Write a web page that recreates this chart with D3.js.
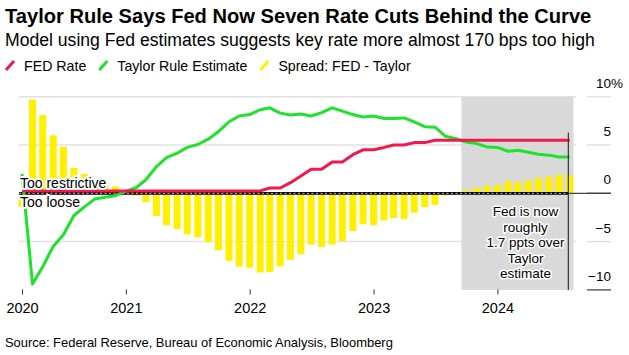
<!DOCTYPE html>
<html><head><meta charset="utf-8">
<script src="https://cdn.jsdelivr.net/npm/d3@7"></script>
<style>
html,body{margin:0;padding:0;background:#fff;}
svg{display:block;}
text{font-family:"Liberation Sans", Arial, sans-serif;fill:#000;}
</style></head><body>
<svg id="chart" width="629" height="355"></svg>
<script>
// ---------------- DATA ----------------
const months = [
 "2020-03","2020-04","2020-05","2020-06","2020-07","2020-08","2020-09","2020-10","2020-11","2020-12",
 "2021-01","2021-02","2021-03","2021-04","2021-05","2021-06","2021-07","2021-08","2021-09","2021-10","2021-11","2021-12",
 "2022-01","2022-02","2022-03","2022-04","2022-05","2022-06","2022-07","2022-08","2022-09","2022-10","2022-11","2022-12",
 "2023-01","2023-02","2023-03","2023-04","2023-05","2023-06","2023-07","2023-08","2023-09","2023-10","2023-11","2023-12",
 "2024-01","2024-02","2024-03","2024-04","2024-05","2024-06","2024-07","2024-08"
];
const fedRate = [
 0.25,0.25,0.25,0.25,0.25,0.25,0.25,0.25,0.25,0.25,
 0.25,0.25,0.25,0.25,0.25,0.25,0.25,0.25,0.25,0.25,0.25,0.25,
 0.25,0.25,0.55,0.55,1.1,1.8,2.5,2.5,3.25,3.25,4.0,4.5,
 4.5,4.75,5.0,5.0,5.25,5.25,5.5,5.5,5.5,5.5,5.5,5.5,
 5.5,5.5,5.5,5.5,5.5,5.5,5.5,5.5
];
const taylorEstimate = [
 2.0,-9.4,-7.6,-5.5,-4.3,-2.3,-1.4,-0.6,-0.4,-0.25,
 0.2,0.6,1.4,2.75,3.7,4.15,4.75,5.05,5.6,6.4,7.4,8.0,
 8.15,8.65,8.85,8.3,8.1,8.2,8.0,8.35,8.85,8.5,8.15,7.9,
 8.0,7.75,7.75,7.8,7.4,6.9,6.85,5.9,5.65,5.3,5.15,4.8,
 4.75,4.35,4.45,4.25,4.05,3.95,3.75,3.75
];
const spread = [
 -1.4,9.7,8.1,6.0,4.8,2.65,2.0,1.0,0.8,0.7,
 0.1,-0.25,-0.9,-2.35,-3.3,-3.7,-4.25,-4.55,-5.05,-5.9,-7.0,-7.6,
 -7.7,-8.2,-8.15,-7.55,-6.9,-6.3,-5.3,-5.55,-5.3,-4.95,-3.9,-3.2,
 -3.3,-2.8,-2.55,-2.65,-2.0,-1.45,-1.2,-0.2,-0.1,0.3,0.55,0.8,
 0.85,1.25,1.15,1.3,1.6,1.7,1.9,1.85
];
const yTickValues = [10, 5, 0, -5, -10];
const xTickMonths = ["2020-03","2021-01","2022-01","2023-01","2024-01"];
const xTickLabels = ["2020","2021","2022","2023","2024"];
const highlightRange = ["2023-09-17","2024-08-12"];
const annotationDate = "2024-07-28";
const annotationTop = 6.3;
const annotationLines = ["Fed is now","roughly","1.7 ppts over","Taylor","estimate"];
const seriesNames = ["FED Rate","Taylor Rule Estimate","Spread: FED - Taylor"];
const titleText = "Taylor Rule Says Fed Now Seven Rate Cuts Behind the Curve";
const subtitleText = "Model using Fed estimates suggests key rate more almost 170 bps too high";
const sourceText = "Source: Federal Reserve, Bureau of Economic Analysis, Bloomberg";
const zoneLabels = ["Too restrictive","Too loose"];

// ---------------- STYLE ----------------
const RED = "#f0184c", GREEN = "#1fe22a", YELLOW = "#fff000";
const GRID = "#e2e2e2", SHADE = "#d9d9d9";

const svg = d3.select("#chart");
const parseM = d3.utcParse("%Y-%m");
const parseD = d3.utcParse("%Y-%m-%d");
const dates = months.map(parseM);

const plotLeft = 19, plotRight = 576, axisSegL = 587, axisSegR = 611;
const x = d3.scaleUtc().domain([dates[0], dates[dates.length-1]]).range([22, 569.7]);
const y = d3.scaleLinear().domain([-10, 10]).range([289.9, 96.7]);

function fit(sel, target){
  const w = sel.node().getComputedTextLength();
  const fs = parseFloat(sel.attr("font-size"));
  sel.attr("font-size", (fs*target/w).toFixed(2));
}

// Titles
const t = svg.append("text").attr("x",5).attr("y",23).attr("font-size",20).attr("font-weight","bold").text(titleText);
fit(t, 587);
const st = svg.append("text").attr("x",5).attr("y",46).attr("font-size",17).text(subtitleText);
fit(st, 590);

// Legend
const colors = [RED, GREEN, YELLOW];
let lx = 5;
seriesNames.forEach((name,i)=>{
  svg.append("line").attr("x1",lx+1).attr("y1",70).attr("x2",lx+9).attr("y2",61)
    .attr("stroke",colors[i]).attr("stroke-width",3);
  const tx = svg.append("text").attr("x",lx+19).attr("y",71).attr("font-size",14.2).text(name);
  lx = lx + 19 + tx.node().getComputedTextLength() + 12;
});

// Gridlines (main)
svg.append("g").selectAll("line").data(yTickValues.filter(v=>v!==0 && v!==-10)).join("line")
  .attr("x1",plotLeft).attr("x2",plotRight).attr("y1",d=>y(d)).attr("y2",d=>y(d))
  .attr("stroke",GRID).attr("stroke-width",1.5);

// Right axis segments + labels
const ya = svg.append("g");
ya.selectAll("line").data(yTickValues).join("line")
  .attr("x1",axisSegL).attr("x2",axisSegR).attr("y1",d=>y(d)).attr("y2",d=>y(d))
  .attr("stroke",d=>(d===0||d===-10)?"#444":GRID).attr("stroke-width",d=>(d===0||d===-10)?1.3:1.5);
ya.selectAll("text.yl").data(yTickValues).join("text").attr("class","yl")
  .attr("x",axisSegR).attr("y",d=>y(d)-9).attr("text-anchor","end").attr("font-size",13.5)
  .text(d=>d3.format("d")(d));
ya.append("text").attr("x",axisSegR).attr("y",y(yTickValues[0])-9).attr("font-size",13.5).text("%");

// Highlight shade
svg.append("rect")
  .attr("x",x(parseD(highlightRange[0]))).attr("width",x(parseD(highlightRange[1]))-x(parseD(highlightRange[0])))
  .attr("y",y(10)).attr("height",y(-10)-y(10)).attr("fill",SHADE);

// Bars
const bw = 7;
svg.append("g").selectAll("rect").data(spread).join("rect")
  .attr("x",(d,i)=>x(dates[i])-bw/2).attr("width",bw)
  .attr("y",d=>y(Math.max(0,d))).attr("height",d=>Math.abs(y(d)-y(0)))
  .attr("fill",YELLOW);

// Zero line
svg.append("line").attr("x1",plotLeft).attr("x2",axisSegR).attr("y1",y(0)).attr("y2",y(0))
  .attr("stroke","#444").attr("stroke-width",1.3);
svg.append("line").attr("x1",plotLeft).attr("x2",x(parseD(annotationDate))).attr("y1",y(0)).attr("y2",y(0))
  .attr("stroke","#000").attr("stroke-width",2.8);
svg.append("line").attr("x1",plotLeft).attr("x2",x(parseD(annotationDate))).attr("y1",y(0)).attr("y2",y(0))
  .attr("stroke","#c8c8c8").attr("stroke-width",1).attr("stroke-dasharray","2,2.5");

// Lines
const line = d3.line().x((d,i)=>x(dates[i])).y(d=>y(d));
svg.append("path").datum(taylorEstimate).attr("d",line).attr("fill","none")
  .attr("stroke",GREEN).attr("stroke-width",3).attr("stroke-linejoin","round");
svg.append("path").datum(fedRate).attr("d",line).attr("fill","none")
  .attr("stroke",RED).attr("stroke-width",3).attr("stroke-linejoin","round");

// Zone labels
[[zoneLabels[0],188],[zoneLabels[1],206.5]].forEach(([txt,yy])=>{
  svg.append("text").attr("x",20).attr("y",yy).attr("font-size",14)
    .attr("stroke","#fff").attr("stroke-width",4).attr("stroke-linejoin","round")
    .attr("paint-order","stroke").text(txt);
});

// X axis
const xAxis = d3.axisBottom(x).tickValues(xTickMonths.map(parseM))
  .tickFormat((d,i)=>xTickLabels[i]).tickSize(5).tickSizeOuter(0);
const gx = svg.append("g").attr("transform",`translate(0,${y(-10)-0.5})`).call(xAxis);
gx.select(".domain").remove();
gx.selectAll(".tick line").attr("stroke","#333");
gx.selectAll(".tick text").attr("y",24).attr("dy",null).attr("font-size",14.5)
  .attr("font-family","Liberation Sans, Arial, sans-serif").attr("fill","#000");

// Annotation
const ax = x(parseD(annotationDate));
svg.append("line").attr("x1",ax).attr("x2",ax).attr("y1",y(annotationTop)).attr("y2",y(-10))
  .attr("stroke","#333").attr("stroke-width",1.2);
annotationLines.forEach((l,i)=>{
  svg.append("text").attr("x",525.5).attr("y",216+i*15.5).attr("text-anchor","middle")
    .attr("font-size",13.5).attr("stroke","#fff").attr("stroke-width",3)
    .attr("stroke-linejoin","round").attr("paint-order","stroke").text(l);
});

// Source
const src = svg.append("text").attr("x",5).attr("y",347).attr("font-size",13).text(sourceText);
fit(src, 388);
</script>
</body></html>
